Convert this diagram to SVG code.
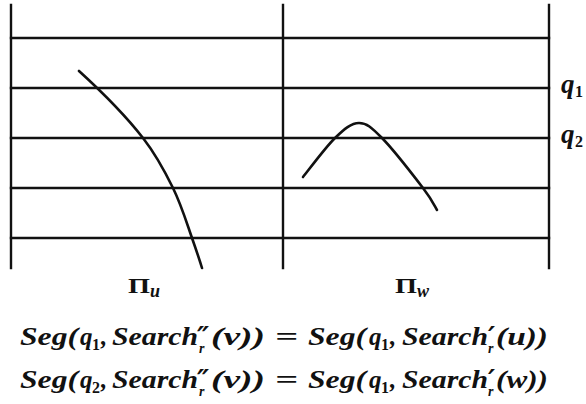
<svg xmlns="http://www.w3.org/2000/svg" width="586" height="404" viewBox="0 0 586 404">
<style>
.ln{stroke:#111;stroke-width:2.4;fill:none;stroke-linecap:square}
.cv{stroke:#111;stroke-width:2.6;fill:none;stroke-linecap:round}
.m{font-family:"Liberation Serif","DejaVu Serif",serif;font-weight:bold;font-style:italic;font-size:25px;fill:#111}
.q{font-size:27px}
.sm{font-size:18px}
.s{font-family:"Liberation Serif","DejaVu Serif",serif;font-weight:bold;font-size:16px;fill:#111}
.r{font-family:"Liberation Serif","DejaVu Serif",serif;font-weight:bold;font-style:italic;font-size:14px;fill:#111}
.p{font-family:"DejaVu Serif",serif;font-weight:bold;font-style:italic;font-size:27px;fill:#111}
.pi{font-family:"Liberation Serif","DejaVu Serif",serif;font-weight:bold;font-size:22px;fill:#111}
</style>
<rect width="586" height="404" fill="#fff"/>
<g id="grid">
<line class="ln" x1="11" y1="5" x2="11" y2="268"/>
<line class="ln" x1="283" y1="5" x2="283" y2="268"/>
<line class="ln" x1="549" y1="5" x2="549" y2="268"/>
<line class="ln" x1="11" y1="38" x2="549" y2="38"/>
<line class="ln" x1="11" y1="88" x2="549" y2="88"/>
<line class="ln" x1="11" y1="138" x2="549" y2="138"/>
<line class="ln" x1="11" y1="188" x2="549" y2="188"/>
<line class="ln" x1="11" y1="238" x2="549" y2="238"/>
</g>
<g id="curve-u">
<path class="cv" d="M79,71 C103.5,93.3 125.6,115.7 143,138 C156,154.7 164.8,171.3 173,188 C181.2,204.7 186.2,221.3 192,238 C195.5,248 199,258 202,268"/>
</g>
<g id="curve-w">
<path class="cv" d="M303,177 C308.3,170.5 325.7,147 335,138 C344.3,129 351.2,123 359,123 C366.8,123 371.3,127.2 382,138 C392.7,148.8 413.8,176 423,188 C432.2,200 434.7,206.3 437,210"/>
</g>
<g id="q-labels">
<text class="m q" x="561" y="93">q</text><text class="s" x="575" y="97">1</text>
<text class="m q" x="561" y="143">q</text><text class="s" x="575" y="147">2</text>
</g>
<g id="pi-labels">
<text class="pi" x="128" y="293" textLength="22" lengthAdjust="spacingAndGlyphs">Π</text><text class="m sm" x="150" y="297">u</text>
<text class="pi" x="395" y="293" textLength="22" lengthAdjust="spacingAndGlyphs">Π</text><text class="m sm" x="417" y="297">w</text>
</g>
<g id="eq1">
<text class="m" x="20" y="345" textLength="58" lengthAdjust="spacingAndGlyphs">Seg(</text>
<text class="m" x="80" y="345">q</text><text class="s" x="92" y="350">1</text>
<text class="m" x="101" y="345">,</text>
<text class="m" x="112" y="345" textLength="86" lengthAdjust="spacingAndGlyphs">Search</text>
<text class="p" x="197" y="347">″</text><text class="r" x="199" y="353">r</text>
<text class="m" x="211" y="345" textLength="54" lengthAdjust="spacingAndGlyphs">(v))</text>
<text class="m" x="275" y="345" textLength="23" lengthAdjust="spacingAndGlyphs">=</text>
<text class="m" x="308" y="345" textLength="58" lengthAdjust="spacingAndGlyphs">Seg(</text>
<text class="m" x="369" y="345">q</text><text class="s" x="381" y="350">1</text>
<text class="m" x="390" y="345">,</text>
<text class="m" x="402" y="345" textLength="86" lengthAdjust="spacingAndGlyphs">Search</text>
<text class="p" x="488" y="347">′</text><text class="r" x="488" y="353">r</text>
<text class="m" x="496" y="345" textLength="52" lengthAdjust="spacingAndGlyphs">(u))</text>
</g>
<g id="eq2">
<text class="m" x="20" y="388" textLength="58" lengthAdjust="spacingAndGlyphs">Seg(</text>
<text class="m" x="80" y="388">q</text><text class="s" x="92" y="393">2</text>
<text class="m" x="101" y="388">,</text>
<text class="m" x="112" y="388" textLength="86" lengthAdjust="spacingAndGlyphs">Search</text>
<text class="p" x="197" y="390">″</text><text class="r" x="199" y="396">r</text>
<text class="m" x="211" y="388" textLength="54" lengthAdjust="spacingAndGlyphs">(v))</text>
<text class="m" x="275" y="388" textLength="23" lengthAdjust="spacingAndGlyphs">=</text>
<text class="m" x="308" y="388" textLength="58" lengthAdjust="spacingAndGlyphs">Seg(</text>
<text class="m" x="369" y="388">q</text><text class="s" x="381" y="393">1</text>
<text class="m" x="390" y="388">,</text>
<text class="m" x="402" y="388" textLength="86" lengthAdjust="spacingAndGlyphs">Search</text>
<text class="p" x="488" y="390">′</text><text class="r" x="488" y="396">r</text>
<text class="m" x="496" y="388" textLength="52" lengthAdjust="spacingAndGlyphs">(w))</text>
</g>
</svg>
